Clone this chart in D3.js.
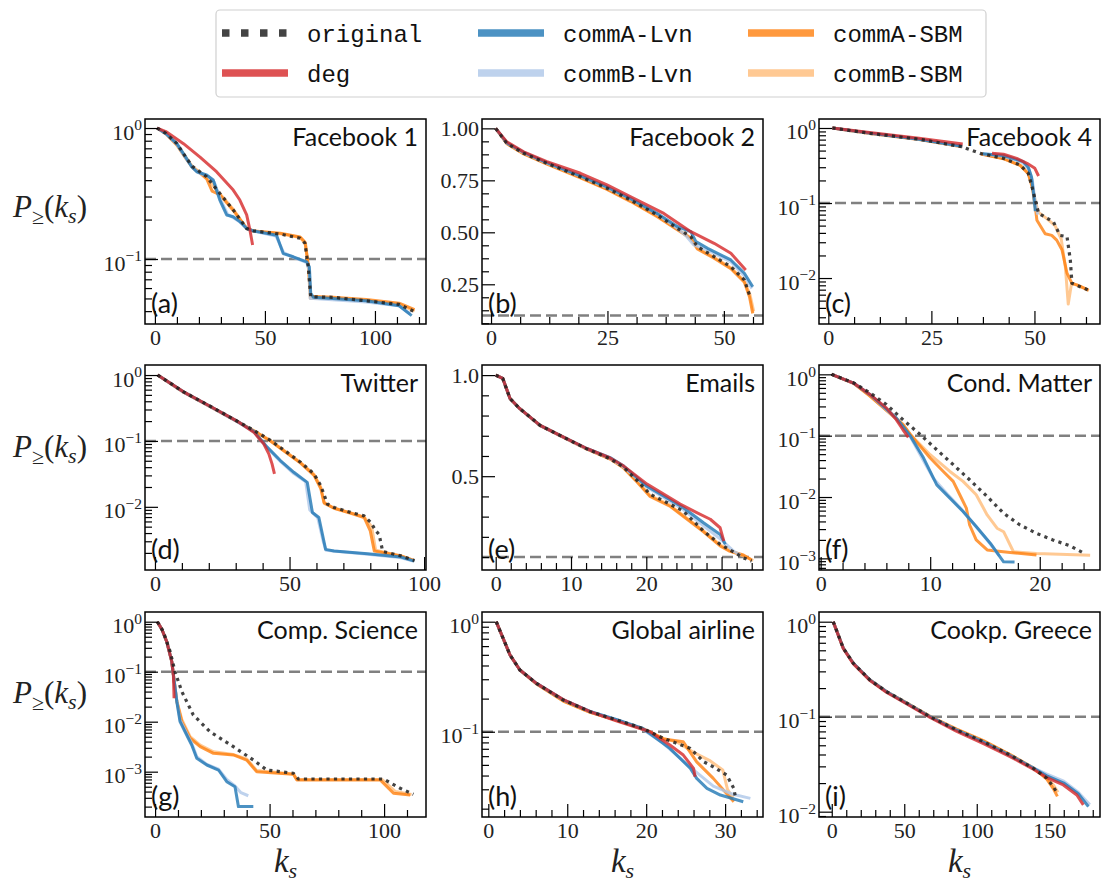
<!DOCTYPE html>
<html>
<head>
<meta charset="utf-8">
<script src="https://cdn.jsdelivr.net/npm/d3@7"></script>
<style>
  body { margin: 0; background: #fff; }
</style>
</head>
<body>
<svg id="chart" width="1111" height="886"></svg>
<script>
// ---- data: [k_s, P>=(k_s)] ----
// (a) Facebook 1
const fb1Orig = [[1,1],[5,0.91],[10,0.76],[14,0.6],[17,0.51],[23.5,0.425],[29.5,0.317],[35.6,0.237],[41.7,0.171],[44.7,0.164],[57,0.155],[66,0.144],[68.2,0.132],[69.7,0.087],[70.8,0.0515],[81,0.051],[96,0.048],[111,0.045],[117.5,0.04]];
const fb1Deg = [[1,1],[5,0.94],[13,0.76],[20.5,0.6],[28,0.464],[35.6,0.336],[38.6,0.282],[41.7,0.217],[43.2,0.166],[44.4,0.128]];
const fb1LvnA = [[1,1],[5,0.91],[10,0.76],[14,0.6],[16.7,0.507],[19,0.464],[23.5,0.438],[26.5,0.401],[29.5,0.282],[32.6,0.217],[35.6,0.21],[38.6,0.193],[41.7,0.171],[44.7,0.164],[55.3,0.152],[58.3,0.11],[62.9,0.104],[69,0.095],[70.2,0.087],[70.8,0.055],[72,0.051],[96,0.048],[111,0.044],[116.7,0.037]];
const fb1LvnB = [[1,1],[5,0.9],[10,0.75],[14,0.59],[17,0.5],[20,0.455],[24,0.43],[27,0.385],[30,0.28],[33,0.22],[36,0.205],[39,0.19],[42,0.17],[45,0.163],[55,0.15],[58.5,0.112],[63,0.103],[69,0.094],[70.2,0.08],[70.6,0.05],[72,0.05],[96,0.047],[111,0.044],[116,0.038]];
const fb1SbmA = [[1,1],[5,0.9],[10,0.74],[14,0.59],[17,0.5],[20,0.46],[23.5,0.41],[26,0.33],[29.5,0.31],[35.6,0.235],[41.7,0.172],[44.7,0.164],[57,0.157],[66,0.147],[68.2,0.135],[69.7,0.09],[70.8,0.052],[81,0.051],[96,0.049],[111,0.046],[118,0.041]];
const fb1SbmB = [[1,1],[5,0.91],[10,0.75],[14,0.6],[17,0.51],[23.5,0.42],[29.5,0.315],[35.6,0.24],[41.7,0.17],[44.7,0.163],[57,0.156],[66,0.146],[68.5,0.13],[69.8,0.085],[70.6,0.05],[81,0.05],[96,0.048],[111,0.045],[118,0.04]];

// (b) Facebook 2
const fb2Orig = [[1,1],[3.4,0.928],[7,0.88],[12,0.832],[19.2,0.767],[24.9,0.712],[30,0.655],[35.7,0.583],[40,0.519],[42.9,0.479],[44.3,0.431],[47.9,0.383],[51.5,0.335],[54.4,0.271],[55.5,0.199]];
const fb2Deg = [[1,1],[3.4,0.935],[7,0.887],[12,0.84],[19.2,0.784],[24.9,0.728],[30,0.671],[37.1,0.591],[42.9,0.503],[47.9,0.447],[51.5,0.399],[54.7,0.319]];
const fb2LvnA = [[1,1],[3.4,0.93],[7,0.885],[12,0.835],[19.2,0.772],[24.9,0.718],[30,0.662],[35.7,0.59],[40,0.528],[42.9,0.503],[44,0.455],[46.5,0.423],[51.5,0.367],[54.4,0.303],[56.2,0.238]];
const fb2LvnB = [[1,1],[3.4,0.93],[7,0.882],[12,0.833],[19.2,0.77],[24.9,0.715],[30,0.66],[35.7,0.588],[40,0.52],[42,0.48],[43.5,0.44],[46.5,0.415],[51.5,0.358],[54.4,0.29],[56,0.23]];
const fb2SbmA = [[1,1],[3.4,0.926],[7,0.877],[12,0.828],[19.2,0.762],[24.9,0.706],[30,0.648],[35.7,0.575],[40,0.512],[42.9,0.47],[44.3,0.42],[47.9,0.375],[51.5,0.325],[54.4,0.26],[55.5,0.19],[56.2,0.11]];
const fb2SbmB = [[1,1],[3.4,0.927],[7,0.879],[12,0.83],[19.2,0.765],[24.9,0.709],[30,0.652],[35.7,0.58],[40,0.515],[42.9,0.474],[44.3,0.426],[47.9,0.38],[51.5,0.33],[54.4,0.266],[55.6,0.2],[56.4,0.12]];

// (c) Facebook 4
const fb4Orig = [[1,1],[10.1,0.849],[22.3,0.706],[32.4,0.563],[36.8,0.459],[42.5,0.394],[46.5,0.321],[48.5,0.249],[49.4,0.165],[50.2,0.11],[51,0.073],[54.6,0.056],[56.2,0.037],[57.9,0.0356],[58.7,0.0174],[59.1,0.0085],[63.1,0.0069]];
const fb4Deg = [[1,1],[10,0.87],[22,0.73],[32.6,0.612],null,[39.7,0.459],[42.5,0.446],[45.7,0.394],[48.2,0.338],[50.1,0.29],[51,0.229]];
const fb4LvnA = [[1,1],[10,0.855],[22,0.71],[32.5,0.57],null,[37.5,0.455],[42.5,0.43],[47.3,0.356],[48.5,0.3],[49.3,0.22],[49.8,0.13],[50.2,0.078]];
const fb4LvnB = [[1,1],[10,0.852],[22,0.707],[32.5,0.565],null,[37.5,0.45],[42.5,0.42],[47,0.35],[48.7,0.28],[49.5,0.2],[50.2,0.1],[50.8,0.07]];
const fb4SbmA = [[1,1],[10,0.847],[22,0.703],[32.5,0.56],null,[37,0.45],[42.5,0.39],[46.5,0.318],[48.5,0.245],[49.5,0.16],[50.2,0.089],[50.6,0.059],[52.6,0.039],[54.2,0.037],[55.4,0.032],[56.7,0.0236],[57.9,0.0116],[59.1,0.0085],[60.3,0.0081],[63.1,0.0069]];
const fb4SbmB = [[1,1],[10,0.848],[22,0.705],[32.5,0.562],null,[37,0.452],[42.5,0.392],[46.5,0.32],[48.5,0.25],[49.6,0.16],[50.3,0.1],[51,0.075],[53,0.062],[55,0.05],[56.5,0.033],[57.5,0.014],[58.2,0.0045],[59,0.0085],[61,0.0078],[63.2,0.0068]];

// (d) Twitter
const twOrig = [[1,1],[10.6,0.556],[20.5,0.336],[30.5,0.2],[36.7,0.145],[42.9,0.102],[49.1,0.067],[54.1,0.0475],[59.1,0.0316],[61.6,0.021],[64.1,0.011],[66.5,0.0098],[72.8,0.0082],[77.7,0.0073],[80.2,0.0058],[82.1,0.0043],[83.3,0.0038],[84.6,0.0021],[91.4,0.0018],[96.4,0.00153]];
const twDeg = [[1,1],[10.6,0.556],[20.5,0.336],[30.5,0.2],[36.7,0.136],[40.4,0.0906],[42.3,0.0637],[43.5,0.0448],[44.4,0.0316]];
const twLvnA = [[1,1],[10.6,0.556],[20.5,0.336],[30.5,0.2],[36.7,0.14],[41.7,0.0805],[46.6,0.0504],[51.6,0.0334],[56.6,0.0235],[58.5,0.0082],[60.9,0.0069],[63.4,0.00226],[66.5,0.00213],[79,0.00194],[91.4,0.00173],[96.4,0.0015]];
const twLvnB = [[1,1],[10.6,0.55],[20.5,0.33],[30.5,0.196],[36.7,0.138],[41.7,0.079],[46.6,0.049],[51.6,0.032],[56,0.024],[57.5,0.009],[60.5,0.0068],[62.5,0.003],[63.5,0.0022],[79,0.0019],[91,0.0017],[96,0.0015]];
const twSbmA = [[1,1],[10.6,0.55],[20.5,0.33],[30.5,0.197],[36.7,0.143],[42.9,0.1],[49.1,0.065],[54.1,0.046],[59.1,0.03],[61.6,0.019],[62.8,0.0116],[66.5,0.0095],[72.8,0.008],[77.7,0.0069],[80,0.0043],[81.5,0.00213],[91.4,0.0018],[96.4,0.00152]];
const twSbmB = [[1,1],[10.6,0.553],[20.5,0.333],[30.5,0.198],[36.7,0.144],[42.9,0.101],[49.1,0.066],[54.1,0.047],[59.1,0.031],[61.6,0.02],[63,0.0112],[66.5,0.0096],[72.8,0.0081],[77.7,0.007],[80.5,0.005],[82,0.0022],[91.4,0.0018],[96,0.00155]];

// (e) Emails
const emOrig = [[0,1],[0.93,0.984],[1.9,0.884],[3.2,0.834],[5.9,0.751],[9,0.693],[12.1,0.635],[15.2,0.586],[17,0.544],[18.8,0.478],[20.5,0.411],[22.3,0.378],[24.9,0.328],[27.6,0.229],[29.8,0.163],[31.8,0.121],[32.9,0.096],[34,0.08]];
const emDeg = [[0,1],[0.93,0.984],[1.9,0.884],[3.2,0.834],[5.9,0.751],[9,0.693],[12.1,0.637],[15.2,0.59],[17,0.55],[20.1,0.461],[24.5,0.362],[26.7,0.32],[28.5,0.287],[29.8,0.245],[30.3,0.179]];
const emLvnA = [[0,1],[0.93,0.984],[1.9,0.884],[3.2,0.834],[5.9,0.751],[9,0.694],[12.1,0.637],[15.2,0.592],[17,0.55],[20.1,0.45],[24.9,0.345],[27.6,0.27],[29.8,0.212],[30.5,0.163]];
const emLvnB = [[0,1],[0.93,0.984],[1.9,0.884],[3.2,0.834],[5.9,0.75],[9,0.692],[12.1,0.635],[15.2,0.588],[17,0.545],[20.1,0.445],[24.9,0.335],[27.6,0.255],[29.8,0.19],[31.6,0.129],[32.5,0.11]];
const emSbmA = [[0,1],[0.93,0.984],[1.9,0.884],[3.2,0.834],[5.9,0.75],[9,0.692],[12.1,0.634],[15.2,0.585],[17,0.54],[18.8,0.47],[20.5,0.4],[23.2,0.35],[27.6,0.225],[29.8,0.155],[31,0.13],[32.9,0.11],[34,0.085]];
const emSbmB = [[0,1],[0.93,0.984],[1.9,0.884],[3.2,0.834],[5.9,0.751],[9,0.693],[12.1,0.635],[15.2,0.586],[17,0.543],[18.8,0.475],[20.5,0.405],[23,0.36],[27.6,0.23],[29.8,0.16],[31.5,0.125],[33,0.105],[34.2,0.083]];

// (f) Cond. Matter
const cmOrig = [[1,1],[3,0.729],[4.5,0.5],[6,0.323],[7.5,0.183],[9.1,0.104],[10.6,0.059],[12.1,0.0337],[13.6,0.0191],[15.2,0.0102],[16.7,0.00543],[18.2,0.0035],[19.7,0.00256],[21.2,0.002],[22.8,0.00159],[24.1,0.0012]];
const cmDeg = [[1,1],[3,0.72],[4.5,0.471],[6,0.284],[6.9,0.183],[7.5,0.126],[8,0.094]];
const cmLvnA = [[1,1],[3,0.72],[4.5,0.471],[6.9,0.195],[8.2,0.098],[9.4,0.0432],[10.6,0.0158],[11.8,0.0096],[13,0.0058],[14.2,0.0033],[15.5,0.00175],[16.7,0.00088],[17.7,0.00087]];
const cmLvnB = [[1,1],[3,0.72],[4.5,0.47],[6.9,0.19],[8.2,0.095],[9.2,0.045],[10.3,0.02],[11.6,0.011],[12.8,0.0065],[14,0.0036],[15.3,0.0019],[16.3,0.0011]];
const cmSbmA = [[1,1],[3,0.715],[4.5,0.441],[7.5,0.152],[8.2,0.104],[10,0.0432],[11.2,0.0261],[12.1,0.018],[12.7,0.0109],[13.3,0.0066],[13.6,0.0035],[14.2,0.002],[15.2,0.00137],[17.3,0.00125],[19.7,0.00113]];
const cmSbmB = [[1,1],[3,0.718],[4.5,0.445],[7.5,0.155],[8.2,0.104],[10,0.049],[11.8,0.0261],[13,0.018],[14.2,0.0109],[15.2,0.0051],[16.1,0.0031],[16.7,0.00272],[17.6,0.00128],[19.7,0.0012],[24.6,0.00112]];

// (g) Comp. Science
const csOrig = [[1,1],[3.6,0.631],[6.6,0.251],[8.7,0.1],[11.7,0.0398],[16.7,0.0136],[24,0.0063],[34.2,0.00316],[42.9,0.00171],[48.8,0.00108],[60.4,0.00093],[62.6,0.000714],[99.7,0.000714],[107,0.000466],[112.8,0.000353]];
const csDeg = [[1,1],[3,0.7],[5.1,0.398],[7.3,0.158],[8,0.086],[8.3,0.0294]];
const csLvnA = [[1,1],[3,0.7],[5.1,0.398],[7.3,0.158],[8,0.086],[9.5,0.0251],[10.9,0.01],[13.8,0.00542],[16,0.00342],[18.2,0.00185],[22.6,0.00136],[27.7,0.00108],[31.3,0.00063],[34.9,0.0005],[36.4,0.0002],[42.9,0.0002]];
const csLvnB = [[1,1],[3,0.7],[5.1,0.4],[7.3,0.16],[8,0.088],[9.5,0.026],[10.9,0.011],[13.8,0.0058],[16,0.0037],[18.2,0.002],[22.6,0.0014],[27.7,0.00112],[31.3,0.0007],[34.9,0.00052],[37.5,0.00038],[40.7,0.00033]];
const csSbmA = [[1,1],[3,0.7],[5.1,0.398],[7.3,0.158],[8,0.086],[9.5,0.0251],[11.7,0.01],[15.3,0.00466],[19.7,0.00316],[25.5,0.00233],[34.2,0.00216],[40,0.00171],[44.4,0.001],[60.4,0.00089],[61.9,0.00068],[98.3,0.00068],[104.1,0.00037],[111.4,0.00034]];
const csSbmB = [[1,1],[3,0.7],[5.1,0.4],[7.3,0.16],[8,0.087],[9.5,0.026],[11.7,0.011],[15.3,0.005],[19.7,0.0034],[25.5,0.0025],[34.2,0.0022],[40,0.0018],[44.4,0.00105],[60.4,0.0009],[62,0.0007],[99,0.0007],[105,0.0004],[112,0.00035]];

// (h) Global airline
const gaOrig = [[1,1],[1.7,0.757],[2.75,0.498],[4,0.364],[6.1,0.275],[9.5,0.194],[12.9,0.152],[16.3,0.128],[19.6,0.107],[22.2,0.087],[25.6,0.0706],[27.3,0.0533],[28.5,0.048],[30.2,0.0404],[31.1,0.0306],[31.3,0.0256]];
const gaDeg = [[1,1],[1.7,0.757],[2.75,0.498],[4,0.364],[6.1,0.275],[9.5,0.196],[12.9,0.152],[16.3,0.125],[20.5,0.1],[23,0.0757],[24.7,0.0614],[26,0.0465],[26.2,0.039]];
const gaLvnA = [[1,1],[1.7,0.757],[2.75,0.498],[4,0.364],[6.1,0.275],[9.5,0.195],[12.9,0.153],[16.3,0.129],[19.6,0.107],[23,0.0706],[25.6,0.0465],[26.4,0.0377],[27.7,0.0306],[29.4,0.0266],[32.3,0.0231]];
const gaLvnB = [[1,1],[1.7,0.757],[2.75,0.498],[4,0.364],[6.1,0.275],[9.5,0.195],[12.9,0.152],[16.3,0.128],[19.6,0.105],[22,0.08],[24,0.06],[26,0.045],[28.5,0.032],[31,0.027],[33.2,0.0248]];
const gaSbmA = [[1,1],[1.7,0.757],[2.75,0.498],[4,0.364],[6.1,0.272],[9.5,0.19],[12.9,0.15],[16.3,0.127],[19.6,0.106],[22.2,0.086],[24.7,0.081],[26.4,0.0533],[28.5,0.0377],[31.1,0.0231]];
const gaSbmB = [[1,1],[1.7,0.757],[2.75,0.498],[4,0.364],[6.1,0.273],[9.5,0.19],[12.9,0.15],[16.3,0.127],[19.6,0.106],[22.2,0.087],[24,0.08],[26,0.065],[28,0.055],[29.7,0.045],[30.3,0.03],[31,0.025]];

// (i) Cookp. Greece
const ckOrig = [[1,1],[8,0.525],[14.9,0.365],[26.4,0.243],[37.9,0.183],[49.4,0.146],[67.8,0.1],[86.2,0.0724],[104.6,0.0546],[123,0.0395],[139,0.0286],[148.3,0.0225],[152.8,0.0183],[155.6,0.0156]];
const ckDeg = [[1,1],[8,0.52],[14.9,0.36],[26.4,0.24],[37.9,0.18],[49.4,0.143],[67.8,0.098],[86.2,0.07],[104.6,0.052],[123,0.038],[139,0.028],[148,0.023],[159.7,0.0191],[169,0.015],[173.5,0.0118]];
const ckLvnA = [[1,1],[8,0.525],[14.9,0.365],[26.4,0.243],[37.9,0.183],[49.4,0.145],[67.8,0.1],[86.2,0.072],[104.6,0.054],[123,0.039],[139,0.0288],[148,0.024],[160,0.02],[170,0.0155],[177,0.0113]];
const ckLvnB = [[1,1],[8,0.525],[14.9,0.365],[26.4,0.243],[37.9,0.183],[49.4,0.145],[67.8,0.1],[86.2,0.072],[104.6,0.054],[123,0.039],[139,0.029],[148,0.025],[160,0.021],[170,0.016],[178,0.0118]];
const ckSbmA = [[1,1],[8,0.525],[14.9,0.365],[26.4,0.243],[37.9,0.183],[49.4,0.146],[67.8,0.101],[86.2,0.074],[104.6,0.056],[123,0.04],[139,0.029],[148.3,0.022],[152.8,0.0175],[155.6,0.0145]];
const ckSbmB = [[1,1],[8,0.525],[14.9,0.365],[26.4,0.243],[37.9,0.183],[49.4,0.146],[67.8,0.101],[86.2,0.073],[104.6,0.055],[123,0.0398],[139,0.0288],[148.3,0.0228],[153,0.019],[156,0.016]];

const seriesNames = ['original', 'deg', 'commA-Lvn', 'commB-Lvn', 'commA-SBM', 'commB-SBM'];
const titles = ['Facebook 1', 'Facebook 2', 'Facebook 4', 'Twitter', 'Emails', 'Cond. Matter', 'Comp. Science', 'Global airline', 'Cookp. Greece'];
const letters = ['(a)', '(b)', '(c)', '(d)', '(e)', '(f)', '(g)', '(h)', '(i)'];
const threshold = 0.1;

const panels = [
  { data: [fb1Orig, fb1Deg, fb1LvnA, fb1LvnB, fb1SbmA, fb1SbmB], log: true, x: [-4.5, 123.2], y: [0.0319, 1.172], xMajor: [0, 50, 100], xMinor: 10 },
  { data: [fb2Orig, fb2Deg, fb2LvnA, fb2LvnB, fb2SbmA, fb2SbmB], log: false, x: [-1.94, 58.4], y: [0.059, 1.045], xMajor: [0, 25, 50], xMinor: 6.25, yMajor: [0.25, 0.5, 0.75, 1.0], yMinor: 0.0625, yFmt: '.2f' },
  { data: [fb4Orig, fb4Deg, fb4LvnA, fb4LvnB, fb4SbmA, fb4SbmB], log: true, x: [-2.26, 65.9], y: [0.00244, 1.318], xMajor: [0, 25, 50], xMinor: 6.25 },
  { data: [twOrig, twDeg, twLvnA, twLvnB, twSbmA, twSbmB], log: true, x: [-3.7, 100.7], y: [0.0011, 1.42], xMajor: [0, 50, 100], xMinor: 10 },
  { data: [emOrig, emDeg, emLvnA, emLvnB, emSbmA, emSbmB], log: false, x: [-1.82, 35.5], y: [0.036, 1.05], xMajor: [0, 10, 20, 30], xMinor: 2, yMajor: [0.5, 1.0], yMinor: 0.1, yFmt: '.1f' },
  { data: [cmOrig, cmDeg, cmLvnA, cmLvnB, cmSbmA, cmSbmB], log: true, x: [-0.15, 25.5], y: [0.000646, 1.42], xMajor: [0, 10, 20], xMinor: 2 },
  { data: [csOrig, csDeg, csLvnA, csLvnB, csSbmA, csSbmB], log: true, x: [-4.4, 118.3], y: [0.000124, 1.563], xMajor: [0, 50, 100], xMinor: 10 },
  { data: [gaOrig, gaDeg, gaLvnA, gaLvnB, gaSbmA, gaSbmB], log: true, x: [-0.8, 34.8], y: [0.0168, 1.225], xMajor: [0, 10, 20, 30], xMinor: 2 },
  { data: [ckOrig, ckDeg, ckLvnA, ckLvnB, ckSbmA, ckSbmB], log: true, x: [-8.8, 185], y: [0.00879, 1.265], xMajor: [0, 50, 100, 150], xMinor: 10 }
];

// ---- styles ----
const styles = [
  { color: '#222222', width: 3.2, dash: '3.2,4.3', opacity: 0.85 },
  { color: '#d62728', width: 3, opacity: 0.8 },
  { color: '#1f77b4', width: 3, opacity: 0.8 },
  { color: '#aec7e8', width: 3, opacity: 0.8 },
  { color: '#ff7f0e', width: 3, opacity: 0.8 },
  { color: '#ffbb78', width: 3, opacity: 0.8 }
];
const drawOrder = [5, 4, 3, 2, 1, 0];

const SERIF = "'Liberation Serif', 'DejaVu Serif', serif";
const SANS = "Lato, 'DejaVu Sans', sans-serif";
const MONO = "'Liberation Mono', 'DejaVu Sans Mono', monospace";

const W = 281, H = 205;
const colX = [145, 482, 819];
const rowY = [119, 365, 612];
const yLabelBase = [98, 92, 91];

const svg = d3.select('#chart');
svg.append('rect').attr('width', 1111).attr('height', 886).attr('fill', '#fff');

panels.forEach((p, i) => {
  const col = i % 3, row = Math.floor(i / 3);
  const g = svg.append('g').attr('transform', `translate(${colX[col]},${rowY[row]})`);

  const x = d3.scaleLinear().domain(p.x).range([0, W]);
  const y = (p.log ? d3.scaleLog() : d3.scaleLinear()).domain(p.y).range([H, 0]);

  g.append('clipPath').attr('id', 'clip' + i)
    .append('rect').attr('width', W).attr('height', H);

  const plot = g.append('g').attr('clip-path', `url(#clip${i})`);

  plot.append('line')
    .attr('x1', 0).attr('x2', W)
    .attr('y1', y(threshold)).attr('y2', y(threshold))
    .attr('stroke', '#808080')
    .attr('stroke-width', 2.4)
    .attr('stroke-dasharray', '11,5');

  const line = d3.line()
    .defined(d => d != null)
    .x(d => x(d[0]))
    .y(d => y(d[1]));

  drawOrder.forEach(s => {
    const st = styles[s];
    plot.append('path')
      .datum(p.data[s])
      .attr('d', line)
      .attr('fill', 'none')
      .attr('stroke', st.color)
      .attr('stroke-width', st.width)
      .attr('stroke-opacity', st.opacity)
      .attr('stroke-linejoin', 'round')
      .attr('stroke-dasharray', st.dash || null);
  });

  // x axis: major + minor ticks, pointing inwards
  const xMinorVals = d3.range(0, p.x[1], p.xMinor).filter(v => !p.xMajor.includes(v));
  const gxMinor = g.append('g').attr('transform', `translate(0,${H})`)
    .call(d3.axisBottom(x).tickValues(xMinorVals).tickSizeInner(-7).tickSizeOuter(0).tickFormat(''));
  const gx = g.append('g').attr('transform', `translate(0,${H})`)
    .call(d3.axisBottom(x).tickValues(p.xMajor).tickSizeInner(-13).tickSizeOuter(0).tickPadding(5).tickFormat(d3.format('d')));

  // y axis
  let yMajorVals, yMinorVals;
  if (p.log) {
    const lo = Math.floor(Math.log10(p.y[0])), hi = Math.floor(Math.log10(p.y[1]));
    yMajorVals = d3.range(Math.ceil(Math.log10(p.y[0])), hi + 1).map(e => Math.pow(10, e));
    yMinorVals = [];
    d3.range(lo, hi + 1).forEach(e => {
      d3.range(2, 10).forEach(m => {
        const v = m * Math.pow(10, e);
        if (v >= p.y[0] && v <= p.y[1]) yMinorVals.push(v);
      });
    });
  } else {
    yMajorVals = p.yMajor;
    yMinorVals = d3.range(0, p.y[1], p.yMinor)
      .filter(v => v >= p.y[0] && !p.yMajor.some(m => Math.abs(m - v) < 1e-9));
  }
  const gyMinor = g.append('g')
    .call(d3.axisLeft(y).tickValues(yMinorVals).tickSizeInner(-7).tickSizeOuter(0).tickFormat(''));
  const gy = g.append('g')
    .call(d3.axisLeft(y).tickValues(yMajorVals).tickSizeInner(-13).tickSizeOuter(0).tickPadding(3)
      .tickFormat(p.log ? (() => '') : d3.format(p.yFmt)));

  [gx, gxMinor, gy, gyMinor].forEach(a => {
    a.select('.domain').remove();
    a.selectAll('.tick line').attr('stroke', '#000').attr('stroke-width', 1.2);
    a.selectAll('.tick text')
      .attr('fill', '#222')
      .attr('font-family', SERIF)
      .attr('font-size', 22);
  });

  if (p.log) {
    gy.selectAll('.tick text').each(function(d) {
      const e = Math.round(Math.log10(d));
      const t = d3.select(this).text('').attr('dy', '0.5em');
      t.append('tspan').text('10');
      t.append('tspan').attr('dy', '-0.6em').attr('font-size', 15.5)
        .text(String(e).replace('-', '\u2212'));
    });
  }

  // frame
  g.append('rect')
    .attr('width', W).attr('height', H)
    .attr('fill', 'none')
    .attr('stroke', '#000')
    .attr('stroke-width', 1.5);

  g.append('text')
    .attr('x', W - 8).attr('y', 27)
    .attr('text-anchor', 'end')
    .attr('font-family', SANS)
    .attr('font-size', 25)
    .attr('fill', '#111')
    .text(titles[i]);

  g.append('text')
    .attr('x', 6).attr('y', H - 11)
    .attr('font-family', SANS)
    .attr('font-size', 27)
    .attr('fill', '#111')
    .text(letters[i]);

  if (col === 0) {
    const yl = svg.append('text')
      .attr('x', 13).attr('y', rowY[row] + yLabelBase[row])
      .attr('font-family', SERIF)
      .attr('font-size', 31)
      .attr('fill', '#222');
    yl.append('tspan').attr('font-style', 'italic').text('P');
    yl.append('tspan').attr('font-size', 22).attr('dy', 7).text('\u2265');
    yl.append('tspan').attr('dy', -7).text('(');
    yl.append('tspan').attr('font-style', 'italic').text('k');
    yl.append('tspan').attr('font-style', 'italic').attr('font-size', 22).attr('dy', 6).text('s');
    yl.append('tspan').attr('dy', -6).text(')');
  }

  if (row === 2) {
    const xl = svg.append('text')
      .attr('x', colX[col] + W / 2).attr('y', 872)
      .attr('text-anchor', 'middle')
      .attr('font-family', SERIF)
      .attr('font-size', 33)
      .attr('fill', '#222');
    xl.append('tspan').attr('font-style', 'italic').text('k');
    xl.append('tspan').attr('font-style', 'italic').attr('font-size', 22).attr('dy', 6).text('s');
  }
});

// ---- legend ----
const legend = svg.append('g');
legend.append('rect')
  .attr('x', 216).attr('y', 10).attr('width', 770).attr('height', 87).attr('rx', 4)
  .attr('fill', '#fff').attr('stroke', '#d0d0d0').attr('stroke-width', 1.2);

const legCols = [222, 478, 748];
const legRows = [33, 73];
const legendItems = [0, 1, 2, 3, 4, 5];
legendItems.forEach(s => {
  const lx = legCols[Math.floor(s / 2)], ly = legRows[s % 2];
  const st = styles[s];
  legend.append('line')
    .attr('x1', lx).attr('x2', lx + 66)
    .attr('y1', ly).attr('y2', ly)
    .attr('stroke', st.color)
    .attr('stroke-opacity', st.opacity)
    .attr('stroke-width', 7.5)
    .attr('stroke-dasharray', s === 0 ? '7.5,11.5' : null);
  legend.append('text')
    .attr('x', lx + 85).attr('y', ly + 9)
    .attr('font-family', MONO)
    .attr('font-size', 24)
    .attr('fill', '#111')
    .text(seriesNames[s]);
});
</script>
</body>
</html>
